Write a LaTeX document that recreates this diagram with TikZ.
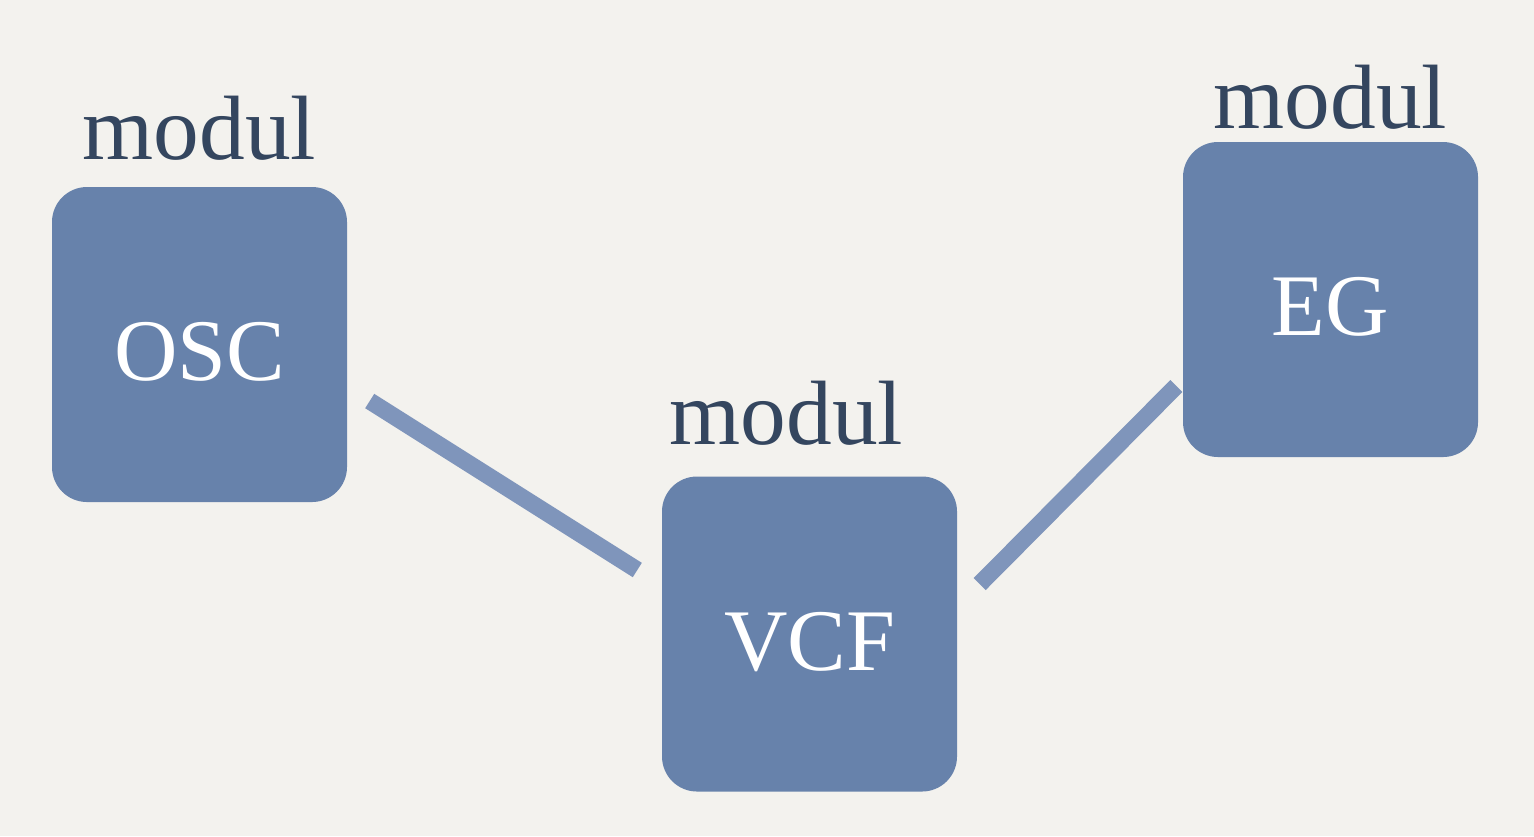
\documentclass[tikz,border=0pt]{standalone}
\usepackage{fontspec}
\setmainfont{Liberation Serif}
\usetikzlibrary{calc, positioning}
\definecolor{paper}{HTML}{F3F2EE}
\definecolor{modulblue}{HTML}{6782AB}
\definecolor{wireblue}{HTML}{7F95BB}
\definecolor{modulnavy}{HTML}{34465F}

\begin{document}
\begin{tikzpicture}[box/.style={fill=modulblue, rounded corners=0.35cm, minimum width=2.95cm, minimum height=3.15cm, text=white, text height=0.72cm, text depth=0pt, font=\fontsize{25}{30}\selectfont},
        modul/.style={anchor=base, text=modulnavy, inner sep=0pt, font=\fontsize{26}{30}\selectfont},
        wire/.style={wireblue, line width=0.17cm}]
        \fill[paper] (0,0) rectangle (15.34,-8.36);
        \useasboundingbox (0,0) rectangle (15.34,-8.36);
        \node[box] (osc) at (1.995,-3.445) {OSC};
        \node[box] (vcf) at (8.095,-6.34) {VCF};
        \node[box] (eg) at (13.305,-2.995) {EG};
        \node[modul] (oscmodul) at ([yshift=0.27cm]osc.north) {modul};
        \node[modul] (vcfmodul) at ([xshift=-0.23cm,yshift=0.31cm]vcf.north) {modul};
        \node[modul] (egmodul) at ([yshift=0.13cm]eg.north) {modul};
        \draw[wire] ($(osc.east)+(0.22,-0.565)$) -- ($(vcf.west)+(-0.24,0.64)$);
        \draw[wire] ($(vcf.east)+(0.22,0.50)$) -- ($(eg.west)+(-0.06,-0.865)$);
    \end{tikzpicture}
\end{document}
